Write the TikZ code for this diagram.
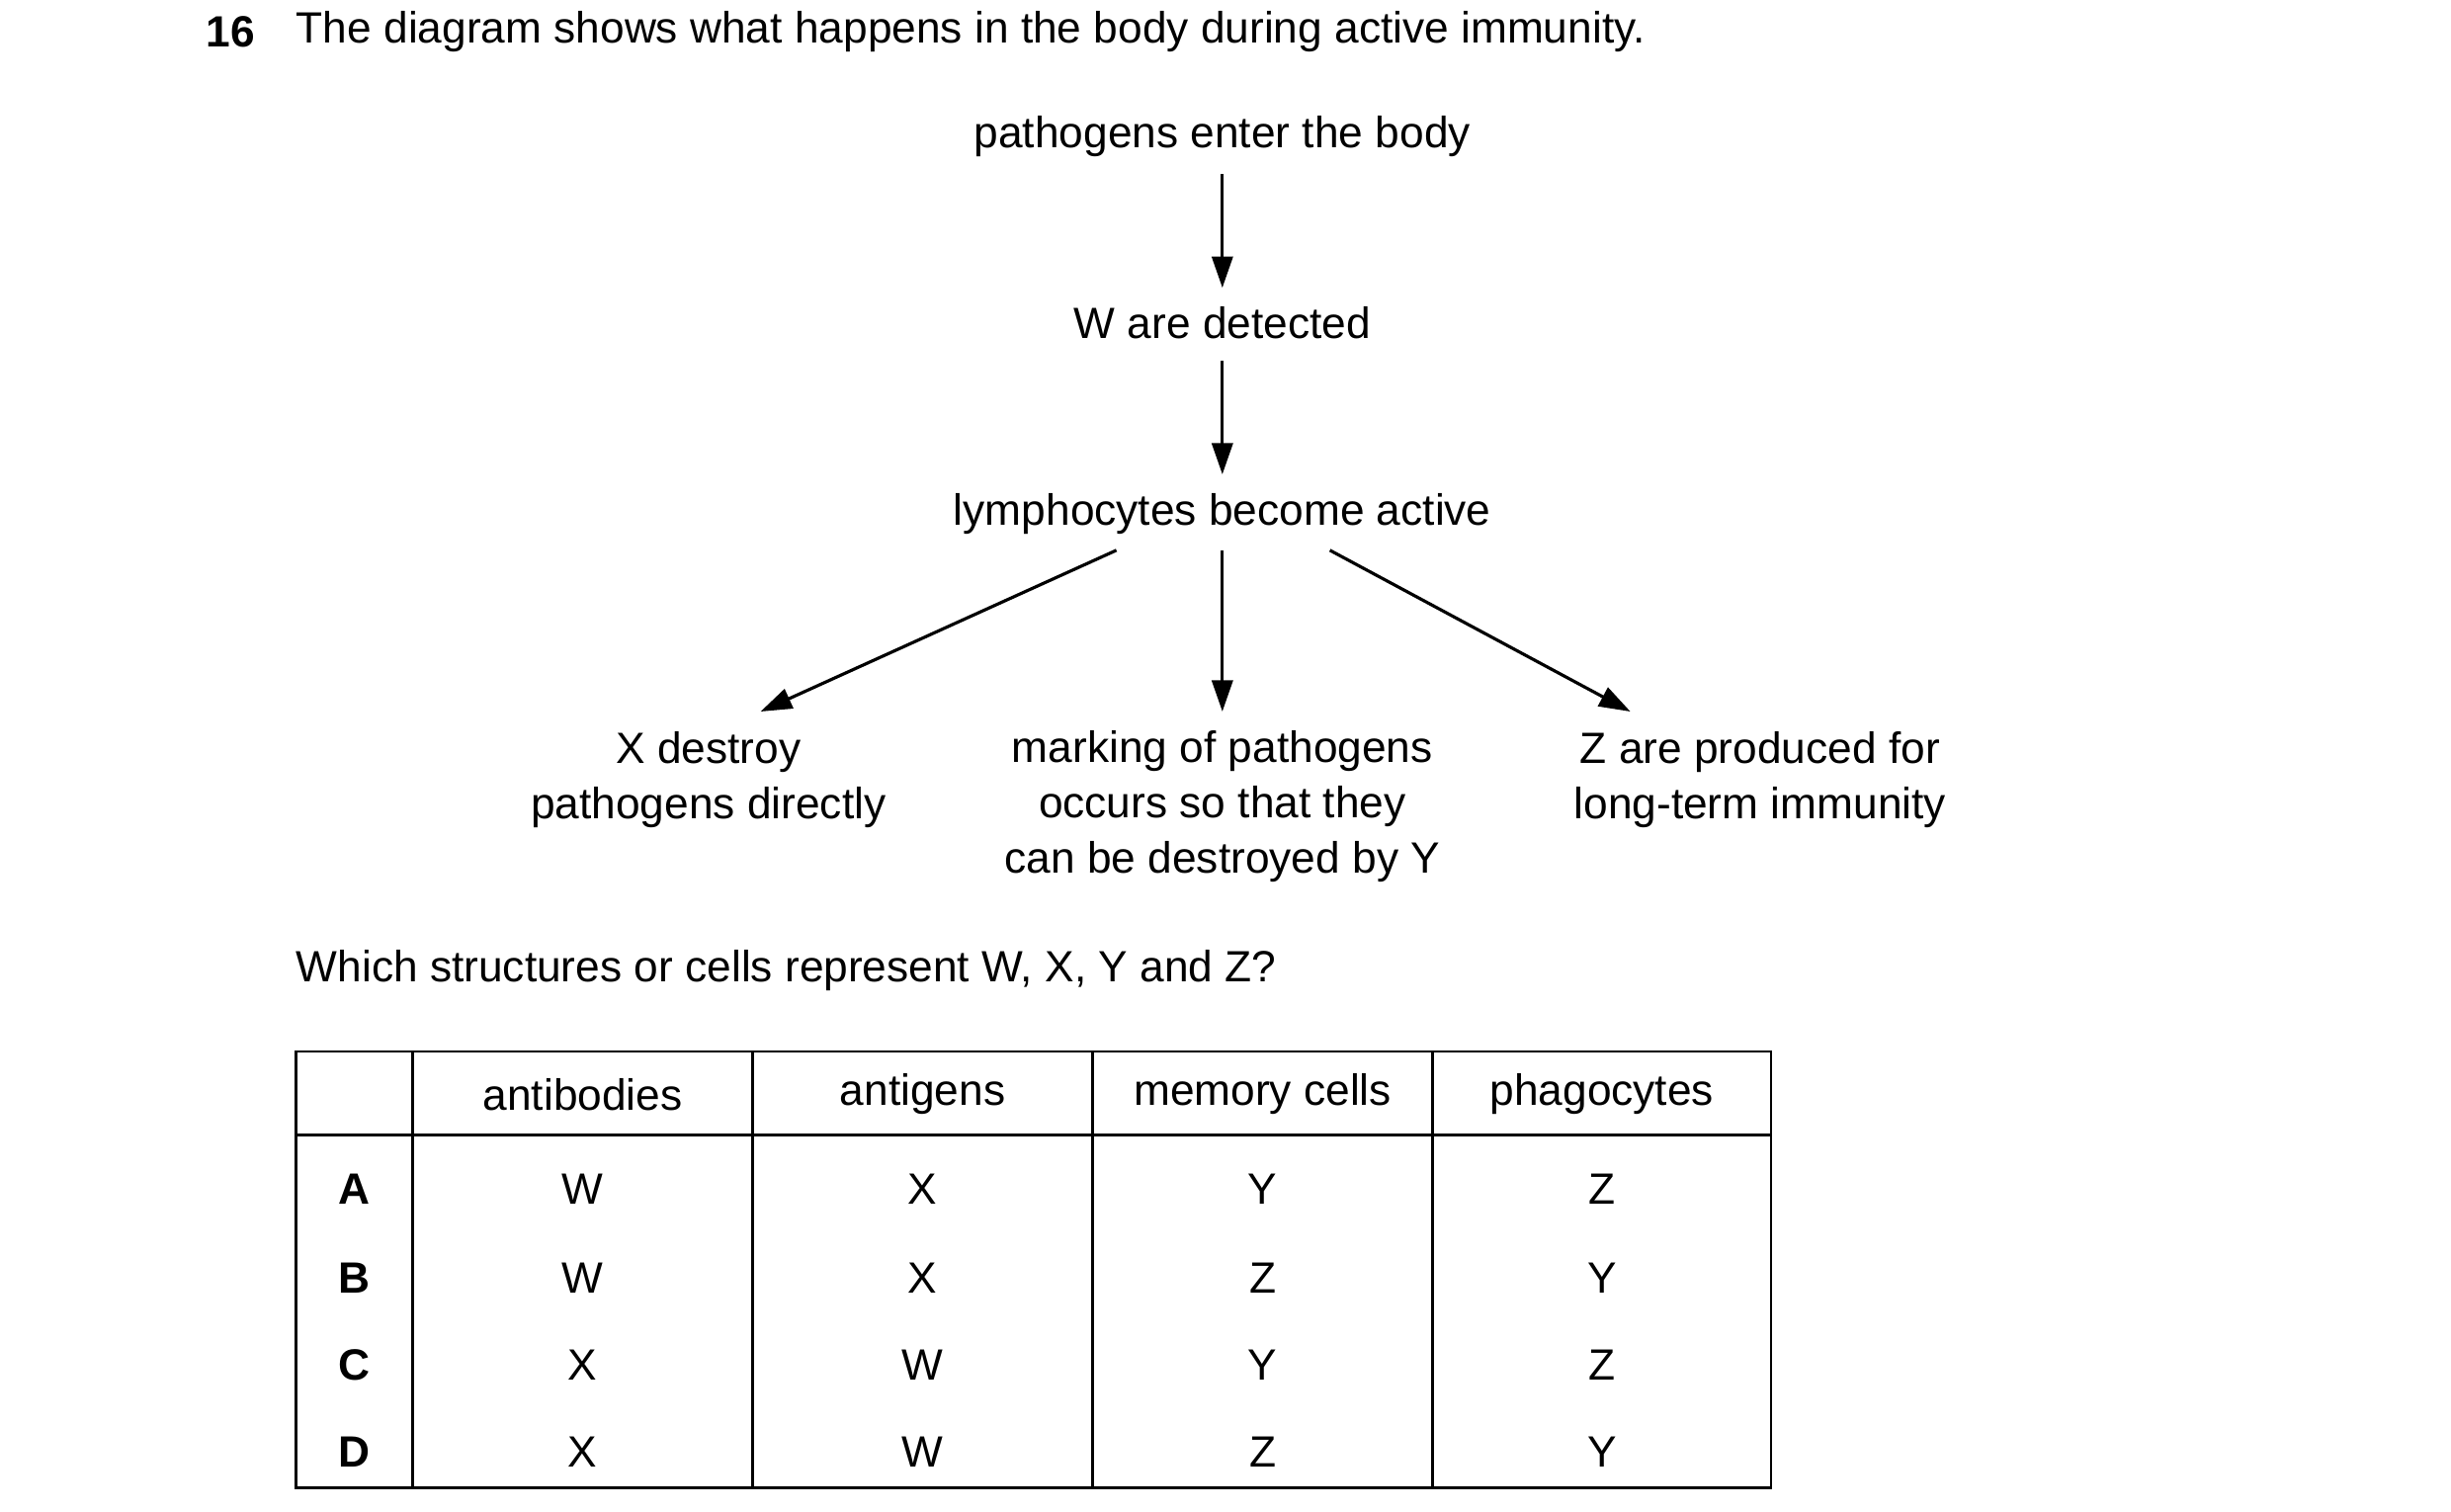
\documentclass[tikz,border=0pt]{standalone}
\usepackage{fontspec}
\setmainfont{Liberation Sans}
\usetikzlibrary{arrows.meta}
\begin{document}
\begin{tikzpicture}[x=0.016cm,y=-0.016cm,
  txt/.style={inner sep=0pt,font=\fontsize{12.6}{15.9}\selectfont,align=center},
  arr/.style={line width=0.9pt,-{Triangle[length=9pt,width=6pt]}},
  tl/.style={line width=0.8pt}]
\useasboundingbox (0,0) rectangle (1550,956);
\node[txt,anchor=west] (num) at (130,20) {\textbf{16}};
\node[txt,anchor=west] (title) at (187,20) {The diagram shows what happens in the body during active immunity.};
\node[txt] (p) at (773,86) {pathogens enter the body};
\node[txt] (w) at (773,204) {W are detected};
\node[txt] (l) at (773,325) {lymphocytes become active};
\node[txt] (x) at (448,493) {X destroy\\pathogens directly};
\node[txt] (m) at (773,510) {marking of pathogens\\occurs so that they\\can be destroyed by Y};
\node[txt] (z) at (1113,493) {Z are produced for\\long-term immunity};
\coordinate (a1) at (773,110); \coordinate (b1) at (773,182);
\coordinate (a2) at (773,228); \coordinate (b2) at (773,300);
\coordinate (a3) at (706,348); \coordinate (b3) at (481,450);
\coordinate (a4) at (773,348); \coordinate (b4) at (773,450);
\coordinate (a5) at (841,348); \coordinate (b5) at (1031,450);
\draw[arr] (a1) -- (b1);
\draw[arr] (a2) -- (b2);
\draw[arr] (a3) -- (b3);
\draw[arr] (a4) -- (b4);
\draw[arr] (a5) -- (b5);
\node[txt,anchor=west] (q) at (187,614) {Which structures or cells represent W, X, Y and Z?};
% table
\draw[tl] (187,665) rectangle (1120,941);
\draw[tl] (187,718) -- (1120,718);
\foreach \xx in {261,476,691,906} \draw[tl] (\xx,665) -- (\xx,941);
\node[txt] (h1) at (368.5,692) {antibodies};
\node[txt] (h2) at (583.5,692) {antigens};
\node[txt] (h3) at (798.5,692) {memory cells};
\node[txt] (h4) at (1013,692) {phagocytes};
\foreach \L/\a/\b/\c/\d/\yy in {A/W/X/Y/Z/752,B/W/X/Z/Y/808,C/X/W/Y/Z/863,D/X/W/Z/Y/918}{
  \node[txt] at (224,\yy) {\textbf{\L}};
  \node[txt] at (368.5,\yy) {\a};
  \node[txt] at (583.5,\yy) {\b};
  \node[txt] at (798.5,\yy) {\c};
  \node[txt] at (1013,\yy) {\d};
}
\end{tikzpicture}
\end{document}
